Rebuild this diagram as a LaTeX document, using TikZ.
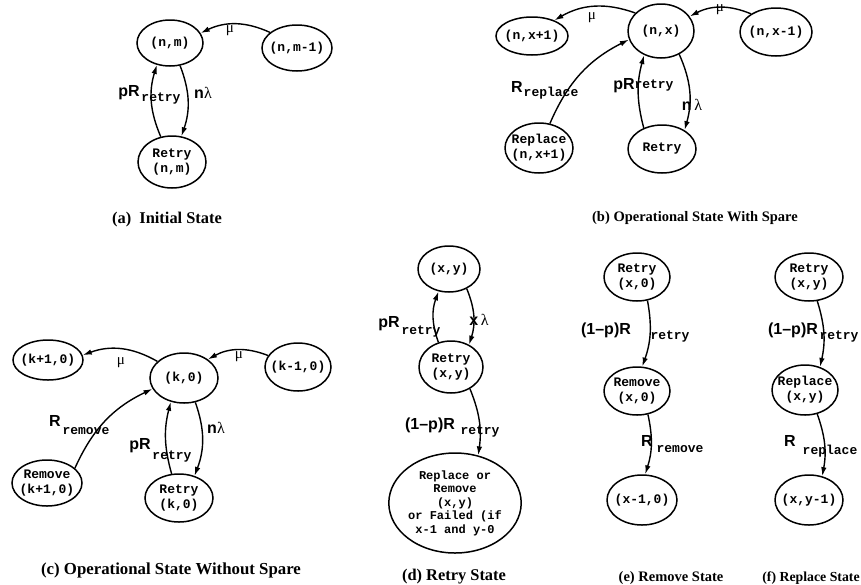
\documentclass[tikz,border=0pt]{standalone}
\usepackage{fontspec}
\setmainfont{Liberation Serif}
\newfontfamily\monofam{Liberation Mono}
\newfontfamily\sansfam{Liberation Sans}
\usetikzlibrary{shapes.geometric,arrows.meta}

\tikzset{
  state/.style={ellipse, draw, line width=1.5pt, inner xsep=-6pt, inner ysep=0pt,
    align=center, font=\monofam\bfseries\fontsize{13}{15}\selectfont},
  trans/.style={-{Latex[length=9pt,width=5.5pt]}, line width=1.4pt},
  rate/.style={inner sep=0pt, font=\sansfam\bfseries\fontsize{16}{16}\selectfont},
  subrate/.style={inner sep=0pt, font=\monofam\bfseries\fontsize{13}{13}\selectfont},
  greek/.style={inner sep=0pt, font=\fontsize{15}{15}\selectfont},
  subcap/.style={inner sep=0pt, font=\bfseries\fontsize{#1}{#1}\selectfont},
}
\newcommand\lam{{\rmfamily\mdseries λ}}

\begin{document}
\begin{tikzpicture}[x=1pt,y=1pt]
\useasboundingbox (0,0) rectangle (861,-584);

% ---------- (a) initial state ----------
\node[state, minimum width=66pt, minimum height=46pt] (nm)  at (170,-43) {(n,m)};
\node[state, minimum width=70pt, minimum height=46pt] (nm1) at (297,-48) {(n,m-1)};
\node[state, minimum width=68pt, minimum height=52pt] (rnm) at (172,-162) {Retry\\(n,m)};
\draw[trans] (nm1.150) to[bend right=25] (nm.18);
\draw[trans] (rnm.114) to[bend left=20] (nm.239);
\draw[trans] (nm.294) to[bend left=20] (rnm.70);
\node[greek] (amu) at (230,-31) {μ};
\node[rate] (apr) at (129,-93) {pR};
\node[subrate] (aprs) at (161,-99) {retry};
\node[rate] (anl) at (203,-93) {n\lam};
\node[subcap=16.4] (capa) at (167,-220) {(a)\enspace Initial State};

% ---------- (b) operational state with spare ----------
\node[state, minimum width=72pt, minimum height=38pt] (nx1)  at (532,-36) {(n,x+1)};
\node[state, minimum width=66pt, minimum height=54pt] (nx)   at (661,-31) {(n,x)};
\node[state, minimum width=72pt, minimum height=48pt] (nxm1) at (776,-32) {(n,x-1)};
\node[state, minimum width=68pt, minimum height=50pt] (rep)  at (539,-148) {Replace\\(n,x+1)};
\node[state, minimum width=68pt, minimum height=48pt] (rtb)  at (662,-149) {Retry};
\draw[trans] (nx.145) to[bend right=25] (nx1.35);
\draw[trans] (nxm1.144) to[bend right=25] (nx.27);
\draw[trans] (rep.66) to[bend left=20] (nx.195);
\draw[trans] (rtb.131) to[bend left=15] (nx.235);
\draw[trans] (nx.308) to[bend left=20] (rtb.40);
\node[greek] (bmu1) at (592,-18) {μ};
\node[greek] (bmu2) at (720,-10) {μ};
\node[rate] (brr) at (517,-87) {R};
\node[subrate] (brrs) at (551,-93) {replace};
\node[rate] (bpr) at (624,-86) {pR};
\node[subrate] (bprs) at (654,-86) {retry};
\node[rate] (bnl) at (692,-105) {n\,\lam};
\node[subcap=14.5] (capb) at (695,-218) {(b) Operational State With Spare};

% ---------- (c) operational state without spare ----------
\node[state, minimum width=70pt, minimum height=40pt] (k1)  at (48,-360) {(k+1,0)};
\node[state, minimum width=68pt, minimum height=50pt] (k0)  at (184,-378) {(k,0)};
\node[state, minimum width=66pt, minimum height=48pt] (km1) at (298,-367) {(k-1,0)};
\node[state, minimum width=70pt, minimum height=46pt] (rem) at (47,-483) {Remove\\(k+1,0)};
\node[state, minimum width=68pt, minimum height=48pt] (rtc) at (179,-498) {Retry\\(k,0)};
\draw[trans] (k0.148) to[bend right=25] (k1.8);
\draw[trans] (km1.159) to[bend right=25] (k0.38);
\draw[trans] (rem.28) to[bend left=20] (k0.199);
\draw[trans] (rtc.107) to[bend left=15] (k0.241);
\draw[trans] (k0.295) to[bend left=20] (rtc.55);
\node[greek] (cmu1) at (121,-363) {μ};
\node[greek] (cmu2) at (239,-357) {μ};
\node[rate] (crr) at (55,-421) {R};
\node[subrate] (crrs) at (86,-431) {remove};
\node[rate] (cpr) at (140,-446) {pR};
\node[subrate] (cprs) at (172,-457) {retry};
\node[rate] (cnl) at (216,-428) {n\lam};
\node[subcap=16.8] (capc) at (171,-570) {(c) Operational State Without Spare};

% ---------- (d) retry state ----------
\node[state, minimum width=62pt, minimum height=46pt] (xy)  at (449,-269) {(x,y)};
\node[state, minimum width=64pt, minimum height=52pt] (rtd) at (451,-367) {Retry\\(x,y)};
\node[state, minimum width=130pt, minimum height=100pt, inner xsep=0pt,
      font=\monofam\bfseries\fontsize{12}{13.5}\selectfont] (big) at (455,-503)
      {Replace or\\Remove\\(x,y)\\or Failed (if\\x-1 and y-0};
\draw[trans] (rtd.117) to[bend left=20] (xy.245);
\draw[trans] (xy.312) to[bend left=20] (rtd.51);
\draw[trans] (rtd.311) to[bend left=15] (big.64);
\node[rate] (dpr) at (389,-324) {pR};
\node[subrate] (dprs) at (421,-332) {retry};
\node[rate] (dxl) at (479,-320) {x\,\lam};
\node[rate] (dqr) at (430,-425) {(1–p)R};
\node[subrate] (dqrs) at (480,-432) {retry};
\node[subcap=16.4] (capd) at (454,-577) {(d) Retry State};

% ---------- (e) remove state ----------
\node[state, minimum width=66pt, minimum height=48pt] (rx0)  at (637,-277) {Retry\\(x,0)};
\node[state, minimum width=66pt, minimum height=48pt] (remx) at (637,-391) {Remove\\(x,0)};
\node[state, minimum width=70pt, minimum height=50pt] (xm10) at (642,-500) {(x-1,0)};
\draw[trans] (rx0.294) to[bend left=15] (remx.78);
\draw[trans] (remx.295) to[bend left=15] (xm10.83);
\node[rate] (eqr) at (606,-330) {(1–p)R};
\node[subrate] (eqrs) at (670,-337) {retry};
\node[rate] (err) at (647,-441) {R};
\node[subrate] (errs) at (680,-449) {remove};
\node[subcap=14.5] (cape) at (671,-578) {(e) Remove State};

% ---------- (f) replace state ----------
\node[state, minimum width=68pt, minimum height=48pt] (rxy)   at (809,-277) {Retry\\(x,y)};
\node[state, minimum width=66pt, minimum height=50pt] (repxy) at (805,-390) {Replace\\(x,y)};
\node[state, minimum width=68pt, minimum height=50pt] (xym1)  at (809,-500) {(x,y-1)};
\draw[trans] (rxy.289) to[bend left=15] (repxy.57);
\draw[trans] (repxy.297) to[bend left=15] (xym1.61);
\node[rate] (fqr) at (793,-330) {(1–p)R};
\node[subrate] (fqrs) at (839,-337) {retry};
\node[rate] (frr) at (790,-441) {R};
\node[subrate] (frrs) at (830,-451) {replace};
\node[subcap=13.8] (capf) at (811,-578) {(f) Replace State};
\end{tikzpicture}
\end{document}
